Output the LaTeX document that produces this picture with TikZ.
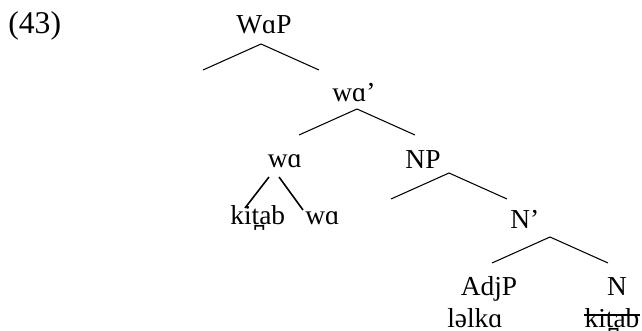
\documentclass[tikz,border=0pt]{standalone}
\usepackage{fontspec}
\setmainfont{Liberation Serif}
\begin{document}
\begin{tikzpicture}[
    x=0.02cm, y=-0.02cm,
    font=\fontsize{15.6}{18}\selectfont,
    cat/.style={inner sep=0pt},
    ramo/.style={line width=0.6pt},
    testa/.style={line width=0.9pt},
  ]
  \useasboundingbox (0,0) rectangle (642,331);

  \def\dx{58}   % mezza apertura dei rami
  \def\dy{26}   % caduta dei rami

  % ---- numero dell'esempio --------------------------------------------------
  \node[cat,anchor=base west,font=\fontsize{18}{21}\selectfont] (num) at (8,34) {(43)};

  % ---- etichette dei nodi ---------------------------------------------------
  \node[cat,anchor=base]      (wap)   at (264,34)  {WɑP};
  \node[cat,anchor=base west] (wab)   at (332,102) {wɑ’};
  \node[cat,anchor=base]      (wa)    at (285,167) {wɑ};
  \node[cat,anchor=base]      (np)    at (423,168) {NP};
  \node[cat,anchor=base west] (nb)    at (510,228) {N’};
  \node[cat,anchor=base]      (adjp)  at (489,295) {AdjP};
  \node[cat,anchor=base]      (n)     at (617,295) {N};

  % ---- parole ---------------------------------------------------------------
  \node[cat,anchor=base west] (kitab) at (230,224) {kit̪ab};
  \node[cat,anchor=base west] (waf)   at (305,224) {wɑ};
  \node[cat,anchor=base]      (lelka) at (475,327) {ləlkɑ};
  \node[cat,anchor=base]      (kitN)  at (612,327) {kit̪ab};
  % kitab barrato
  \draw[ramo] ([yshift=0.24cm]kitN.base west) -- ([yshift=0.24cm]kitN.base east);

  % ---- rami a tetto ---------------------------------------------------------
  \foreach \r/\x/\y in {wap/261/44, wab/357/109, np/449/173, nb/550/237} {
    \coordinate (\r-top) at (\x,\y);
    \coordinate (\r-l) at ({\x-\dx},{\y+\dy});
    \coordinate (\r-r) at ({\x+\dx},{\y+\dy});
    \draw[ramo] (\r-l) -- (\r-top) -- (\r-r);
  }

  % ---- la testa wa con kitab incorporato ------------------------------------
  \coordinate (wa-l) at (269,177);
  \coordinate (wa-r) at (279,177);
  \coordinate (kitab-t) at (245,208);
  \coordinate (waf-t) at (303,210);
  \draw[testa] (wa-l) -- (kitab-t);
  \draw[testa] (wa-r) -- (waf-t);

\end{tikzpicture}
\end{document}
